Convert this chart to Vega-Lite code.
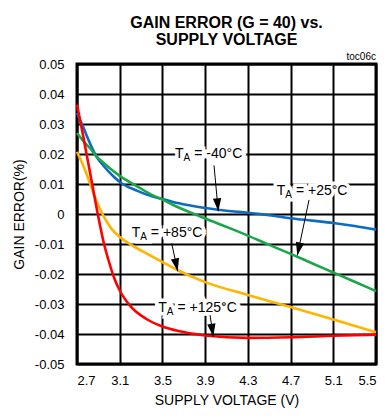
{
  "$schema": "https://vega.github.io/schema/vega-lite/v6.json",
  "width": 299,
  "height": 300,
  "autosize": {"type": "none"},
  "padding": {"left": 77, "top": 64, "right": 11, "bottom": 54},
  "background": "white",
  "config": {
    "font": "Liberation Sans",
    "view": {"stroke": "black", "strokeWidth": 3},
    "axis": {
      "grid": true, "gridColor": "black", "gridWidth": 2, "gridOpacity": 1,
      "ticks": false, "domain": false,
      "labelFont": "Liberation Sans", "labelFontSize": 13, "labelColor": "black",
      "titleFont": "Liberation Sans", "titleFontSize": 14, "titleFontWeight": "normal", "titleColor": "black"
    }
  },
  "title": {
    "text": ["GAIN ERROR (G = 40) vs.", "SUPPLY VOLTAGE"],
    "font": "Liberation Sans", "fontSize": 16, "fontWeight": "bold", "color": "black",
    "lineHeight": 17, "anchor": "middle", "baseline": "bottom", "offset": 17, "dy": 29
  },
  "datasets": {
    "curves": [
      {"series": "-40", "x": 2.7, "y": 0.0337}, {"series": "-40", "x": 2.76, "y": 0.0288}, {"series": "-40", "x": 2.82, "y": 0.0237},
      {"series": "-40", "x": 2.88, "y": 0.0193}, {"series": "-40", "x": 2.95, "y": 0.016}, {"series": "-40", "x": 3.04, "y": 0.0126},
      {"series": "-40", "x": 3.1, "y": 0.0107}, {"series": "-40", "x": 3.26, "y": 0.0078}, {"series": "-40", "x": 3.41, "y": 0.0058},
      {"series": "-40", "x": 3.5, "y": 0.005}, {"series": "-40", "x": 3.6, "y": 0.004}, {"series": "-40", "x": 3.75, "y": 0.0029},
      {"series": "-40", "x": 3.9, "y": 0.002}, {"series": "-40", "x": 4.1, "y": 0.0011}, {"series": "-40", "x": 4.3, "y": 0.0004},
      {"series": "-40", "x": 4.5, "y": -0.0004}, {"series": "-40", "x": 4.7, "y": -0.0014}, {"series": "-40", "x": 4.9, "y": -0.0022},
      {"series": "-40", "x": 5.1, "y": -0.003}, {"series": "-40", "x": 5.3, "y": -0.004}, {"series": "-40", "x": 5.5, "y": -0.0052},
      {"series": "+25", "x": 2.7, "y": 0.027}, {"series": "+25", "x": 2.76, "y": 0.0243}, {"series": "+25", "x": 2.82, "y": 0.022},
      {"series": "+25", "x": 2.88, "y": 0.0193}, {"series": "+25", "x": 2.95, "y": 0.017}, {"series": "+25", "x": 3.04, "y": 0.0143},
      {"series": "+25", "x": 3.1, "y": 0.0127}, {"series": "+25", "x": 3.26, "y": 0.0093}, {"series": "+25", "x": 3.41, "y": 0.0062},
      {"series": "+25", "x": 3.5, "y": 0.0048}, {"series": "+25", "x": 3.6, "y": 0.003}, {"series": "+25", "x": 3.75, "y": 0.0007},
      {"series": "+25", "x": 3.9, "y": -0.0015}, {"series": "+25", "x": 4.1, "y": -0.0043}, {"series": "+25", "x": 4.3, "y": -0.0072},
      {"series": "+25", "x": 4.5, "y": -0.0103}, {"series": "+25", "x": 4.7, "y": -0.0133}, {"series": "+25", "x": 4.9, "y": -0.0164},
      {"series": "+25", "x": 5.1, "y": -0.0195}, {"series": "+25", "x": 5.3, "y": -0.0226}, {"series": "+25", "x": 5.5, "y": -0.0257},
      {"series": "+85", "x": 2.7, "y": 0.0207}, {"series": "+85", "x": 2.76, "y": 0.016}, {"series": "+85", "x": 2.82, "y": 0.0104},
      {"series": "+85", "x": 2.88, "y": 0.0045}, {"series": "+85", "x": 2.95, "y": -0.0008}, {"series": "+85", "x": 3.02, "y": -0.0048},
      {"series": "+85", "x": 3.1, "y": -0.0077}, {"series": "+85", "x": 3.2, "y": -0.0101}, {"series": "+85", "x": 3.35, "y": -0.0131},
      {"series": "+85", "x": 3.5, "y": -0.016}, {"series": "+85", "x": 3.63, "y": -0.0185}, {"series": "+85", "x": 3.9, "y": -0.0227},
      {"series": "+85", "x": 4.3, "y": -0.027}, {"series": "+85", "x": 4.7, "y": -0.031}, {"series": "+85", "x": 5.1, "y": -0.0352},
      {"series": "+85", "x": 5.5, "y": -0.0394},
      {"series": "+125", "x": 2.7, "y": 0.0365}, {"series": "+125", "x": 2.75, "y": 0.0275}, {"series": "+125", "x": 2.8, "y": 0.018},
      {"series": "+125", "x": 2.85, "y": 0.0085}, {"series": "+125", "x": 2.9, "y": -0.001}, {"series": "+125", "x": 2.95, "y": -0.0095},
      {"series": "+125", "x": 3.0, "y": -0.016}, {"series": "+125", "x": 3.05, "y": -0.0215}, {"series": "+125", "x": 3.1, "y": -0.0255},
      {"series": "+125", "x": 3.2, "y": -0.0307}, {"series": "+125", "x": 3.35, "y": -0.035}, {"series": "+125", "x": 3.5, "y": -0.0375},
      {"series": "+125", "x": 3.65, "y": -0.039}, {"series": "+125", "x": 3.9, "y": -0.0405}, {"series": "+125", "x": 4.3, "y": -0.0413},
      {"series": "+125", "x": 4.7, "y": -0.0411}, {"series": "+125", "x": 5.1, "y": -0.0406}, {"series": "+125", "x": 5.5, "y": -0.0402}
    ],
    "labels": [
      {"x": 3.618, "y": 0.0188, "t": "T", "a": "A", "rest": "= -40°C"},
      {"x": 4.57, "y": 0.0065, "t": "T", "a": "A", "rest": "= +25°C"},
      {"x": 3.212, "y": -0.0078, "t": "T", "a": "A", "rest": "= +85°C"},
      {"x": 3.461, "y": -0.0325, "t": "T", "a": "A", "rest": "= +125°C"}
    ],
    "arrows": [
      {"x": 4.023, "y": 0.0009, "xs": 3.983, "ys": 0.0162},
      {"x": 4.763, "y": -0.0138, "xs": 4.873, "ys": 0.0047},
      {"x": 3.643, "y": -0.0191, "xs": 3.587, "ys": -0.0098},
      {"x": 3.976, "y": -0.0409, "xs": 3.946, "ys": -0.0337}
    ],
    "notes": [
      {"x": 5.5, "y": 0.05, "text": "toc06c"}
    ]
  },
  "encoding": {
    "x": {
      "field": "x", "type": "quantitative",
      "scale": {"domain": [2.7, 5.5], "nice": false, "zero": false},
      "axis": {
        "values": [2.7, 3.1, 3.5, 3.9, 4.3, 4.7, 5.1, 5.5], "format": ".1f",
        "labelPadding": 10, "title": "SUPPLY VOLTAGE (V)", "titlePadding": 6
      }
    },
    "y": {
      "field": "y", "type": "quantitative",
      "scale": {"domain": [-0.05, 0.05], "nice": false, "zero": false},
      "axis": {
        "values": [-0.05, -0.04, -0.03, -0.02, -0.01, 0, 0.01, 0.02, 0.03, 0.04, 0.05],
        "labelExpr": "datum.value == 0 ? '0' : replace(format(datum.value, '.2f'), '\u2212', '-')",
        "labelPadding": 13, "title": "GAIN ERROR(%)", "titlePadding": 8
      }
    }
  },
  "layer": [
    {"data": {"name": "labels"}, "mark": {"type": "text", "align": "left", "baseline": "alphabetic", "fontSize": 14, "fill": "white", "stroke": "white", "strokeWidth": 7}, "encoding": {"text": {"field": "t"}}},
    {"data": {"name": "labels"}, "mark": {"type": "text", "align": "left", "baseline": "alphabetic", "fontSize": 10, "dx": 8.5, "dy": 3, "fill": "white", "stroke": "white", "strokeWidth": 7}, "encoding": {"text": {"field": "a"}}},
    {"data": {"name": "labels"}, "mark": {"type": "text", "align": "left", "baseline": "alphabetic", "fontSize": 14, "dx": 19.2, "fill": "white", "stroke": "white", "strokeWidth": 7}, "encoding": {"text": {"field": "rest"}}},
    {
      "data": {"name": "curves"},
      "mark": {"type": "line", "strokeWidth": 2.6, "interpolate": "monotone"},
      "encoding": {
        "color": {"field": "series", "type": "nominal",
          "scale": {"domain": ["-40", "+25", "+85", "+125"], "range": ["#0a6cc4", "#1aa64a", "#ffb400", "#ff0000"]},
          "legend": null}
      }
    },
    {"data": {"name": "labels"}, "mark": {"type": "text", "align": "left", "baseline": "alphabetic", "fontSize": 14, "color": "black"}, "encoding": {"text": {"field": "t"}}},
    {"data": {"name": "labels"}, "mark": {"type": "text", "align": "left", "baseline": "alphabetic", "fontSize": 10, "dx": 8.5, "dy": 3, "color": "black"}, "encoding": {"text": {"field": "a"}}},
    {"data": {"name": "labels"}, "mark": {"type": "text", "align": "left", "baseline": "alphabetic", "fontSize": 14, "dx": 19.2, "color": "black"}, "encoding": {"text": {"field": "rest"}}},
    {
      "data": {"name": "arrows"},
      "mark": {"type": "rule", "color": "black", "strokeWidth": 1},
      "encoding": {"x2": {"field": "xs"}, "y2": {"field": "ys"}}
    },
    {
      "data": {"name": "arrows"},
      "transform": [{"calculate": "-atan(((datum.x - datum.xs) * 299 / 2.8) / ((datum.ys - datum.y) * 3000)) * 180 / PI", "as": "ang"}],
      "mark": {"type": "point", "shape": "M0,0L-0.32,-1L0.32,-1Z", "filled": true, "size": 676, "color": "black", "opacity": 1, "strokeWidth": 0},
      "encoding": {"angle": {"field": "ang", "type": "quantitative", "scale": null}}
    },
    {
      "data": {"name": "notes"},
      "mark": {"type": "text", "align": "right", "baseline": "alphabetic", "fontSize": 10, "dy": -4, "color": "black"},
      "encoding": {"text": {"field": "text"}}
    }
  ]
}
